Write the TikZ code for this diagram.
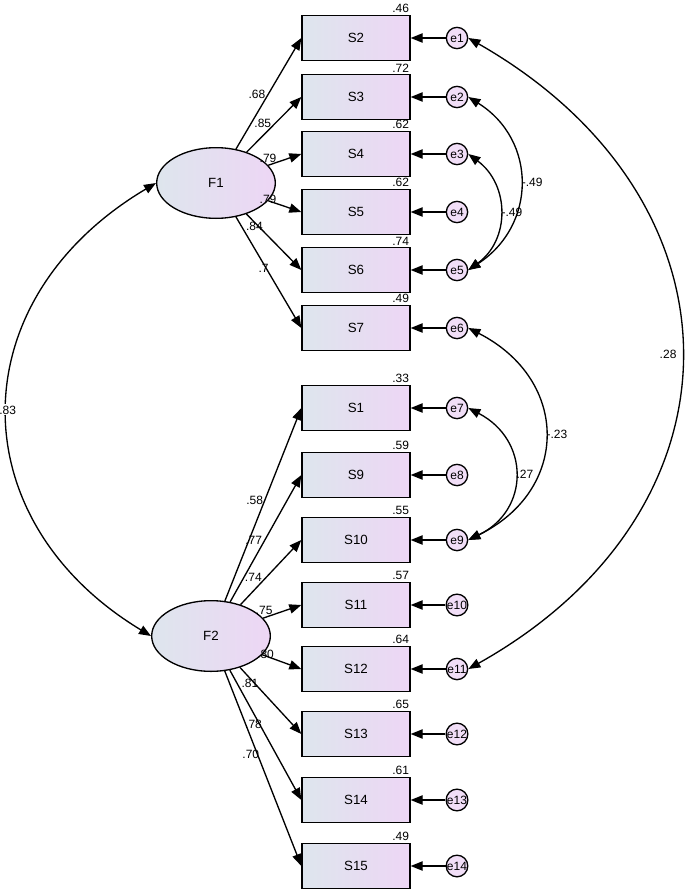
\documentclass[tikz,border=0pt]{standalone}
\usepackage{fontspec}
\setmainfont{Liberation Sans}
\usetikzlibrary{arrows.meta,positioning,shapes.geometric}
\definecolor{boxL}{rgb}{0.87,0.9,0.93}
\definecolor{boxR}{rgb}{0.93,0.84,0.96}
\tikzset{
  obs/.style={draw, line width=1pt, minimum width=81pt, minimum height=34pt, left color=boxL, right color=boxR, font=\normalsize},
  lat/.style={draw, line width=1pt, ellipse, minimum width=89pt, minimum height=53pt, left color=boxL, right color=boxR, font=\normalsize},
  err/.style={draw, line width=1pt, circle, inner sep=0pt, minimum size=16pt, fill=boxR!80!white, font=\small},
  arr/.style={line width=1pt, -{Triangle[length=9pt,width=7pt]}},
  num/.style={font=\small, inner sep=1pt}
}
\begin{document}
\begin{tikzpicture}[x=0.75pt, y=-0.75pt]
\useasboundingbox (0,0) rectangle (685,892);
% factors
\node[lat] (F1) at (216,183) {F1};
\node[lat] (F2) at (211,636) {F2};
% indicators, error terms and variances
\foreach \n/\e/\y/\v in {S2/e1/38/.46, S3/e2/97/.72, S4/e3/154/.62, S5/e4/212/.62,
  S6/e5/270/.74, S7/e6/328/.49, S1/e7/408/.33, S9/e8/475/.59, S10/e9/540/.55,
  S11/e10/605/.57, S12/e11/669/.64, S13/e12/734/.65, S14/e13/800/.61, S15/e14/866/.49}
{
  \node[obs] (\n) at (356,\y) {\n};
  \node[err] (\e) at (457,\y) {\e};
  \node[num, anchor=south east] at (\n.north east) {\v};
  \draw[arr] (\e) -- (\n);
}
% loadings
\foreach \n/\l/\p in {S2/.68/0.45, S3/.85/0.45, S4/.79/0.25, S5/.79/0.25, S6/.84/0.3, S7/.7/0.5}
  \draw[arr] (F1) -- node[num, pos=\p, above left=-2pt] {\l} (\n.west);
\foreach \n/\l/\p in {S1/.58/0.5, S9/.77/0.45, S10/.74/0.35, S11/.75/0.25,
  S12/.80/0.3, S13/.81/0.3, S14/.78/0.45, S15/.70/0.45}
  \draw[arr] (F2) -- node[num, pos=\p, above left=-2pt] {\l} (\n.west);
% covariances
\draw[arr, {Triangle[length=9pt,width=7pt]}-{Triangle[length=9pt,width=7pt]}]
  (F1.west) .. controls (-41,300) and (-41,520) .. node[num, pos=0.5, fill=white] {.83} (F2.west);
\draw[arr, {Triangle[length=9pt,width=7pt]}-{Triangle[length=9pt,width=7pt]}]
  (e1.east) .. controls (752,200) and (752,510) .. node[num, pos=0.5, left=2pt] {.28} (e11.east);
\draw[arr, {Triangle[length=9pt,width=7pt]}-{Triangle[length=9pt,width=7pt]}]
  (e2.east) .. controls (537,140) and (537,225) .. node[num, pos=0.5, right] {-.49} (e5.east);
\draw[arr, {Triangle[length=9pt,width=7pt]}-{Triangle[length=9pt,width=7pt]}]
  (e3.east) .. controls (510,185) and (510,240) .. node[num, pos=0.5, right] {-.49} (e5.east);
\draw[arr, {Triangle[length=9pt,width=7pt]}-{Triangle[length=9pt,width=7pt]}]
  (e6.east) .. controls (570,380) and (570,490) .. node[num, pos=0.5, right] {-.23} (e9.east);
\draw[arr, {Triangle[length=9pt,width=7pt]}-{Triangle[length=9pt,width=7pt]}]
  (e7.east) .. controls (530,440) and (530,510) .. node[num, pos=0.5, right] {.27} (e9.east);
\end{tikzpicture}
\end{document}
